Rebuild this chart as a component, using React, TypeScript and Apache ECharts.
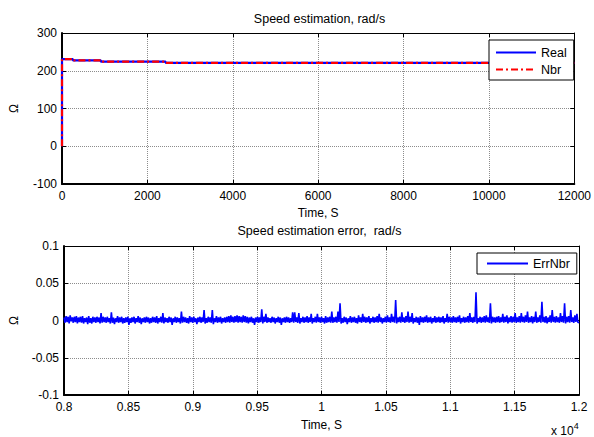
import React, { useEffect, useRef } from "react";
import * as echarts from "echarts";

// ---- Data ----
const topTitle = "Speed estimation, rad/s";
const bottomTitle = "Speed estimation error,  rad/s";
const xName = "Time, S";
const yName = "Ω";

// step changes of speed (time in s, value in rad/s)
const speedTimes = [0, 0, 254, 254, 909, 909, 2428, 2428, 12000];
const speedReal = [0, 231, 231, 227.5, 227.5, 224, 224, 221, 221];
const speedNbr = [0, 231, 231, 227.5, 227.5, 224, 224, 221, 221];

// error samples in units of 1e-3 rad/s, start time 8000 s, 8 s apart
const errStart = 8000;
const errStep = 8;
const errNbrMilli = [
  4, -3, 6, -2, 5, -4, 7, -1, 4, -3, 5, -2, 6, -4, 4, -2, 5, -3, 6, -4,
  3, -2, 4, -5, 6, -3, 3, -4, 5, -2, 4, -3, 5, -2, 4, -4, 10, -3, 5, -2,
  4, -3, 5, -2, 3, -4, 11, -3, 4, -5, 3, -2, 6, -3, 4, -2, 5, -4, 3, -3,
  4, -2, 5, -6, 3, -3, 4, -2, 5, -4, 3, -2, 6, -3, 4, -5, 3, -2, 4, -3,
  5, -2, 4, -4, 3, -3, 5, -2, 4, -3, 6, -4, 3, -2, 5, -3, 10, -4, 4, -2,
  3, -3, 5, -2, 4, -6, 3, -2, 5, -3, 4, -2, 3, -4, 12, -3, 5, -2, 4, -3,
  3, -4, 6, -2, 4, -3, 5, -2, 3, -5, 4, -2, 5, -3, 4, -2, 14, -4, 3, -3,
  5, -2, 4, -3, 14, -5, 3, -2, 6, -3, 4, -2, 5, -4, 3, -2, 4, -3, 5, -2,
  6, -3, 7, -2, 5, -3, 6, -2, 7, -3, 6, -2, 5, -3, 7, -2, 6, -3, 5, -4,
  4, -2, 5, -3, 3, -6, 4, -2, 5, -3, 4, -2, 15, -4, 5, -2, 9, -3, 4, -2,
  3, -3, 5, -2, 4, -4, 3, -2, 5, -3, 4, -6, 3, -2, 4, -3, 5, -2, 4, -3,
  3, -2, 11, -3, 11, -2, 4, -3, 10, -4, 3, -2, 5, -3, 4, -2, 6, -3, 4, -2,
  9, -4, 3, -2, 5, -3, 9, -2, 4, -3, 5, -2, 3, -4, 6, -3, 4, -2, 5, -3,
  12, -3, 4, -2, 5, -3, 12, -2, 23, -4, 3, -3, 5, -2, 4, -5, 3, -2, 6, -3,
  4, -2, 5, -3, 3, -4, 7, -2, 4, -3, 9, -2, 5, -3, 4, -2, 6, -4, 3, -2,
  5, -3, 4, -2, 6, -3, 9, -2, 4, -4, 3, -2, 5, -3, 7, -2, 4, -3, 9, -2,
  5, -3, 27.5, -4, 4, -2, 5, -3, 11, -2, 4, -3, 6, -2, 12, -3, 5, -2, 10, -4,
  3, -2, 5, -3, 4, -6, 6, -2, 4, -3, 5, -2, 7, -3, 4, -2, 5, -4, 3, -2,
  6, -3, 4, -2, 5, -3, 4, -2, 6, -4, 3, -2, 9, -3, 5, -2, 4, -3, 6, -2,
  4, -3, 5, -2, 7, -4, 3, -2, 5, -3, 4, -2, 6, -3, 10, -2, 4, -3, 5, -2,
  38, -4, 3, -2, 5, -3, 4, -2, 6, -3, 7, -2, 4, -3, 23, -4, 5, -2, 4, -3,
  5, -2, 6, -3, 4, -2, 9, -3, 5, -2, 7, -4, 4, -2, 6, -3, 5, -2, 10, -3,
  4, -2, 6, -3, 10, -2, 5, -3, 7, -2, 12, -3, 4, -2, 6, -4, 5, -2, 12, -3,
  4, -2, 7, -3, 25, -2, 5, -3, 6, -4, 4, -2, 7, -3, 14, -2, 5, -3, 6, -2,
  4, -3, 10, -2, 6, -3, 23, -4, 5, -2, 6, -3, 14, -2, 4, -3, 7, -2, 9, -3,
  -2,
];

const FONT = "Liberation Sans, Arial, sans-serif";

export default function App() {
  const ref = useRef<HTMLDivElement>(null);
  useEffect(() => {
    if (!ref.current) return;
    const chart = echarts.init(ref.current, null, { renderer: "svg" });

    const speedRealData = speedTimes.map((t, i) => [t, speedReal[i]]);
    const speedNbrData = speedTimes.map((t, i) => [t, speedNbr[i]]);
    const errData = errNbrMilli.map((v, i) => [errStart + i * errStep, v / 1000]);

    const labelStyle = { color: "#000", fontFamily: FONT, fontSize: 12 };
    const splitLine = { show: true, lineStyle: { color: "#8c8c8c", type: "dotted", width: 1 } };
    const mainLine = (w: number) => ({ show: true, onZero: false, lineStyle: { color: "#000", width: w } });
    const tick = { show: true, inside: true, length: 4, lineStyle: { color: "#000" } };
    const nameStyle = { color: "#000", fontFamily: FONT, fontSize: 12 };
    const hiddenSymbol = { color: "transparent", borderColor: "transparent", borderWidth: 0, opacity: 0 };

    const option: any = {
      animation: false,
      backgroundColor: "#fff",
      textStyle: { fontFamily: FONT },
      title: [
        {
          text: topTitle,
          left: 319.5,
          top: 12,
          textAlign: "center",
          padding: 0,
          textStyle: { color: "#000", fontWeight: "normal", fontSize: 12.5, fontFamily: FONT },
        },
        {
          text: bottomTitle,
          left: 319.5,
          top: 224.5,
          textAlign: "center",
          padding: 0,
          textStyle: { color: "#000", fontWeight: "normal", fontSize: 12.5, fontFamily: FONT },
        },
      ],
      legend: [
        {
          data: ["Real", "Nbr"],
          orient: "vertical",
          left: 489,
          top: 40,
          padding: [6, 7, 4, 6],
          itemGap: 4,
          itemWidth: 40,
          itemHeight: 14,
          borderColor: "#000",
          borderWidth: 1,
          borderRadius: 0,
          backgroundColor: "#fff",
          itemStyle: hiddenSymbol,
          textStyle: { color: "#000", fontFamily: FONT, fontSize: 12.5 },
        },
        {
          data: ["ErrNbr"],
          orient: "vertical",
          left: 477,
          top: 253,
          padding: [4, 7, 4, 9],
          itemWidth: 41,
          itemHeight: 14,
          borderColor: "#000",
          borderWidth: 1,
          borderRadius: 0,
          backgroundColor: "#fff",
          itemStyle: hiddenSymbol,
          textStyle: { color: "#000", fontFamily: FONT, fontSize: 12.5 },
        },
      ],
      grid: [
        { left: 60, top: 33, width: 519, height: 151, containLabel: false },
        { left: 60, top: 246, width: 519, height: 149, containLabel: false },
      ],
      xAxis: [
        {
          type: "value",
          gridIndex: 0,
          min: 0,
          max: 12000,
          interval: 2000,
          position: "bottom",
          axisLine: mainLine(2),
          axisTick: tick,
          axisLabel: { ...labelStyle, margin: 6, showMaxLabel: true, formatter: (v: number) => String(v) },
          splitLine,
          name: xName,
          nameLocation: "middle",
          nameGap: 23,
          nameTextStyle: nameStyle,
        },
        {
          type: "value",
          gridIndex: 0,
          min: 0,
          max: 12000,
          interval: 2000,
          position: "top",
          axisLine: mainLine(1),
          axisTick: tick,
          axisLabel: { show: false },
          splitLine: { show: false },
        },
        {
          type: "value",
          gridIndex: 1,
          min: 8000,
          max: 12000,
          interval: 500,
          position: "bottom",
          axisLine: mainLine(2),
          axisTick: tick,
          axisLabel: {
            ...labelStyle,
            margin: 6,
            formatter: (v: number) => String(+(v / 10000).toFixed(3)),
          },
          splitLine,
          name: xName,
          nameLocation: "middle",
          nameGap: 24,
          nameTextStyle: nameStyle,
        },
        {
          type: "value",
          gridIndex: 1,
          min: 8000,
          max: 12000,
          interval: 500,
          position: "top",
          axisLine: mainLine(1),
          axisTick: tick,
          axisLabel: { show: false },
          splitLine: { show: false },
        },
      ],
      yAxis: [
        {
          type: "value",
          gridIndex: 0,
          min: -100,
          max: 300,
          interval: 100,
          position: "left",
          axisLine: mainLine(2),
          axisTick: tick,
          axisLabel: { ...labelStyle, margin: 5, formatter: (v: number) => String(v) },
          splitLine,
          name: yName,
          nameLocation: "middle",
          nameRotate: 90,
          nameGap: 42,
          nameTextStyle: nameStyle,
        },
        {
          type: "value",
          gridIndex: 0,
          min: -100,
          max: 300,
          interval: 100,
          position: "right",
          axisLine: mainLine(1),
          axisTick: tick,
          axisLabel: { show: false },
          splitLine: { show: false },
        },
        {
          type: "value",
          gridIndex: 1,
          min: -0.1,
          max: 0.1,
          interval: 0.05,
          position: "left",
          axisLine: mainLine(2),
          axisTick: tick,
          axisLabel: {
            ...labelStyle,
            margin: 5,
            formatter: (v: number) => String(+v.toFixed(2)),
          },
          splitLine,
          name: yName,
          nameLocation: "middle",
          nameRotate: 90,
          nameGap: 44,
          nameTextStyle: nameStyle,
        },
        {
          type: "value",
          gridIndex: 1,
          min: -0.1,
          max: 0.1,
          interval: 0.05,
          position: "right",
          axisLine: mainLine(1),
          axisTick: tick,
          axisLabel: { show: false },
          splitLine: { show: false },
        },
      ],
      series: [
        {
          name: "Real",
          type: "line",
          xAxisIndex: 0,
          yAxisIndex: 0,
          data: speedRealData,
          symbol: "none",
          showSymbol: false,
          itemStyle: { color: "#0000ff" },
          lineStyle: { color: "#0000ff", width: 2.2 },
        },
        {
          name: "Nbr",
          type: "line",
          xAxisIndex: 0,
          yAxisIndex: 0,
          data: speedNbrData,
          symbol: "none",
          showSymbol: false,
          itemStyle: { color: "#ff0000" },
          lineStyle: { color: "#ff0000", width: 2.2, type: [7, 3, 2, 3] },
        },
        {
          name: "ErrNbr",
          type: "line",
          xAxisIndex: 2,
          yAxisIndex: 2,
          data: errData,
          symbol: "none",
          showSymbol: false,
          itemStyle: { color: "#0000ff" },
          lineStyle: { color: "#0000ff", width: 1.6 },
        },
      ],
      graphic: [
        {
          type: "text",
          left: 551,
          top: 421,
          style: {
            text: "{a|x 10}{b|4}",
            rich: {
              a: { fontSize: 12, fontFamily: FONT, fill: "#000", padding: [6, 0, 0, 0] },
              b: { fontSize: 9, fontFamily: FONT, fill: "#000", padding: [0, 0, 4, 0] },
            },
          },
        },
      ],
    };

    chart.setOption(option);
    return () => chart.dispose();
  }, []);

  return (
    <div
      ref={ref}
      style={{ position: "fixed", left: 0, top: 0, width: 594, height: 437, background: "#fff" }}
    />
  );
}
